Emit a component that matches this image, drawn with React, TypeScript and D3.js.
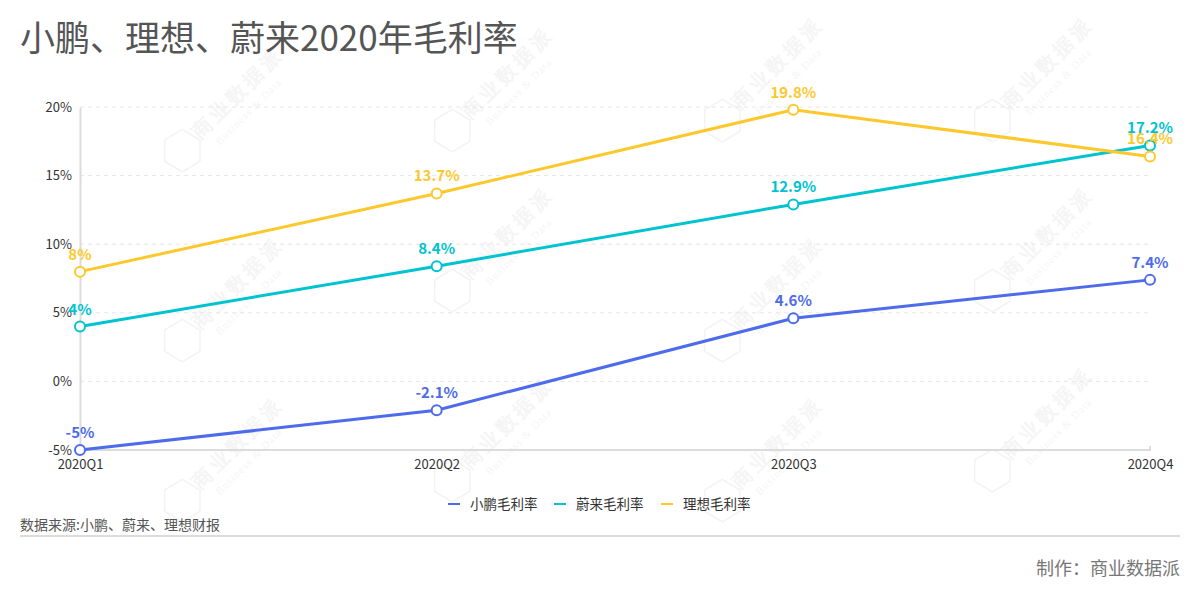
import React, { useEffect, useRef } from "react";
import * as d3 from "d3";

const quarters = ["2020Q1", "2020Q2", "2020Q3", "2020Q4"];
const xiaopeng = [-5, -2.1, 4.6, 7.4];
const nio = [4, 8.4, 12.9, 17.2];
const lixiang = [8, 13.7, 19.8, 16.4];
const yTicks = [-5, 0, 5, 10, 15, 20];

const seriesList = [
  { name: "小鹏毛利率", values: xiaopeng, color: "#4d6bea" },
  { name: "蔚来毛利率", values: nio, color: "#00c3d0" },
  { name: "理想毛利率", values: lixiang, color: "#fdc82c" },
];

const watermarks = [
  [200, 140], [470, 120], [740, 110], [1010, 110],
  [200, 330], [470, 280], [740, 330], [1010, 280],
  [200, 490], [470, 470], [740, 490], [1010, 460],
];

const FONT = "'Noto Sans CJK SC', 'Noto Sans', sans-serif";

const App = () => {
  const svgRef = useRef<SVGSVGElement>(null);

  useEffect(() => {
    const svg = d3.select(svgRef.current);
    svg.selectAll("*").remove();

    const margin = { top: 107, right: 50, bottom: 150, left: 80 };
    const width = 1200 - margin.left - margin.right;
    const height = 600 - margin.top - margin.bottom;

    svg.append("rect").attr("width", 1200).attr("height", 600).attr("fill", "#fff");

    // watermarks
    const wm = svg.append("g");
    watermarks.forEach(([x, y]) => {
      const w = wm.append("g").attr("transform", `translate(${x},${y}) rotate(-45)`);
      w.append("text").text("商业数据派").attr("x", 0).attr("y", 0)
        .attr("font-family", "serif").attr("font-size", 20).attr("font-weight", "bold")
        .attr("fill", "#f5f5f5").attr("letter-spacing", 4);
      w.append("text").text("Business & Data").attr("x", 10).attr("y", 18)
        .attr("font-family", "serif").attr("font-size", 11)
        .attr("fill", "#f5f5f5").attr("letter-spacing", 1);
      w.append("path").attr("d", "M-40,-10 l15,-15 l20,5 l5,20 l-15,15 l-20,-5 z")
        .attr("fill", "none").attr("stroke", "#f3f3f3").attr("stroke-width", 1.5);
    });

    const g = svg.append("g").attr("transform", `translate(${margin.left},${margin.top})`);

    const x = d3.scalePoint().domain(quarters).range([0, width]);
    const y = d3.scaleLinear().domain([-5, 20]).range([height, 0]);

    // grid
    g.selectAll(".grid").data(yTicks.slice(1)).join("line")
      .attr("x1", 0).attr("x2", width)
      .attr("y1", d => y(d)).attr("y2", d => y(d))
      .attr("stroke", "#e6e6e6").attr("stroke-dasharray", "4,4");

    // y axis
    const yAxis = g.append("g").call(
      d3.axisLeft(y).tickValues(yTicks).tickSize(0).tickPadding(8).tickFormat(d => `${d}%`)
    );
    yAxis.select(".domain").attr("stroke", "#dcdcdc").attr("stroke-width", 2);
    yAxis.selectAll("text").attr("font-family", FONT).attr("font-size", 13).attr("fill", "#333");

    // x axis
    const xAxis = g.append("g").attr("transform", `translate(0,${height})`).call(
      d3.axisBottom(x).tickSize(0).tickPadding(10)
    );
    xAxis.select(".domain").attr("stroke", "#dcdcdc").attr("stroke-width", 2)
      .attr("d", `M0,0H${width}V-4`);
    xAxis.selectAll("text").attr("font-family", FONT).attr("font-size", 13).attr("fill", "#333");

    const line = d3.line<number>().x((d, i) => x(quarters[i])!).y(d => y(d));

    seriesList.forEach(s => {
      g.append("path").datum(s.values).attr("d", line)
        .attr("fill", "none").attr("stroke", s.color).attr("stroke-width", 3);
    });
    seriesList.forEach(s => {
      g.selectAll(null).data(s.values).join("circle")
        .attr("cx", (d, i) => x(quarters[i])!).attr("cy", d => y(d)).attr("r", 5)
        .attr("fill", "#fff").attr("stroke", s.color).attr("stroke-width", 2);
    });
    seriesList.forEach(s => {
      g.selectAll(null).data(s.values).join("text")
        .attr("x", (d, i) => x(quarters[i])!).attr("y", d => y(d) - 12)
        .attr("text-anchor", "middle").attr("font-family", FONT)
        .attr("font-size", 15).attr("font-weight", "bold").attr("fill", s.color)
        .text(d => `${d}%`);
    });

    // title
    svg.append("text").attr("x", 20).attr("y", 51).text("小鹏、理想、蔚来2020年毛利率")
      .attr("font-family", FONT).attr("font-size", 35).attr("fill", "#555");

    // legend
    const legendX = [448, 554, 661];
    const lg = svg.append("g").attr("transform", "translate(0,504)");
    seriesList.forEach((s, i) => {
      lg.append("line").attr("x1", legendX[i]).attr("x2", legendX[i] + 12)
        .attr("y1", 0).attr("y2", 0).attr("stroke", s.color).attr("stroke-width", 2);
      lg.append("text").attr("x", legendX[i] + 22).attr("y", 5).text(s.name)
        .attr("font-family", FONT).attr("font-size", 13.5).attr("fill", "#333");
    });

    // footer
    svg.append("text").attr("x", 20).attr("y", 530).text("数据来源:小鹏、蔚来、理想财报")
      .attr("font-family", FONT).attr("font-size", 14).attr("fill", "#555");
    svg.append("line").attr("x1", 20).attr("x2", 1180).attr("y1", 536).attr("y2", 536)
      .attr("stroke", "#dcdcdc").attr("stroke-width", 2);
    svg.append("text").attr("x", 1180).attr("y", 575).attr("text-anchor", "end").text("制作：商业数据派")
      .attr("font-family", FONT).attr("font-size", 18).attr("fill", "#777");
  }, []);

  return <svg ref={svgRef} width={1200} height={600} style={{ display: "block", position: "absolute", left: 0, top: 0 }} />;
};

export default App;
